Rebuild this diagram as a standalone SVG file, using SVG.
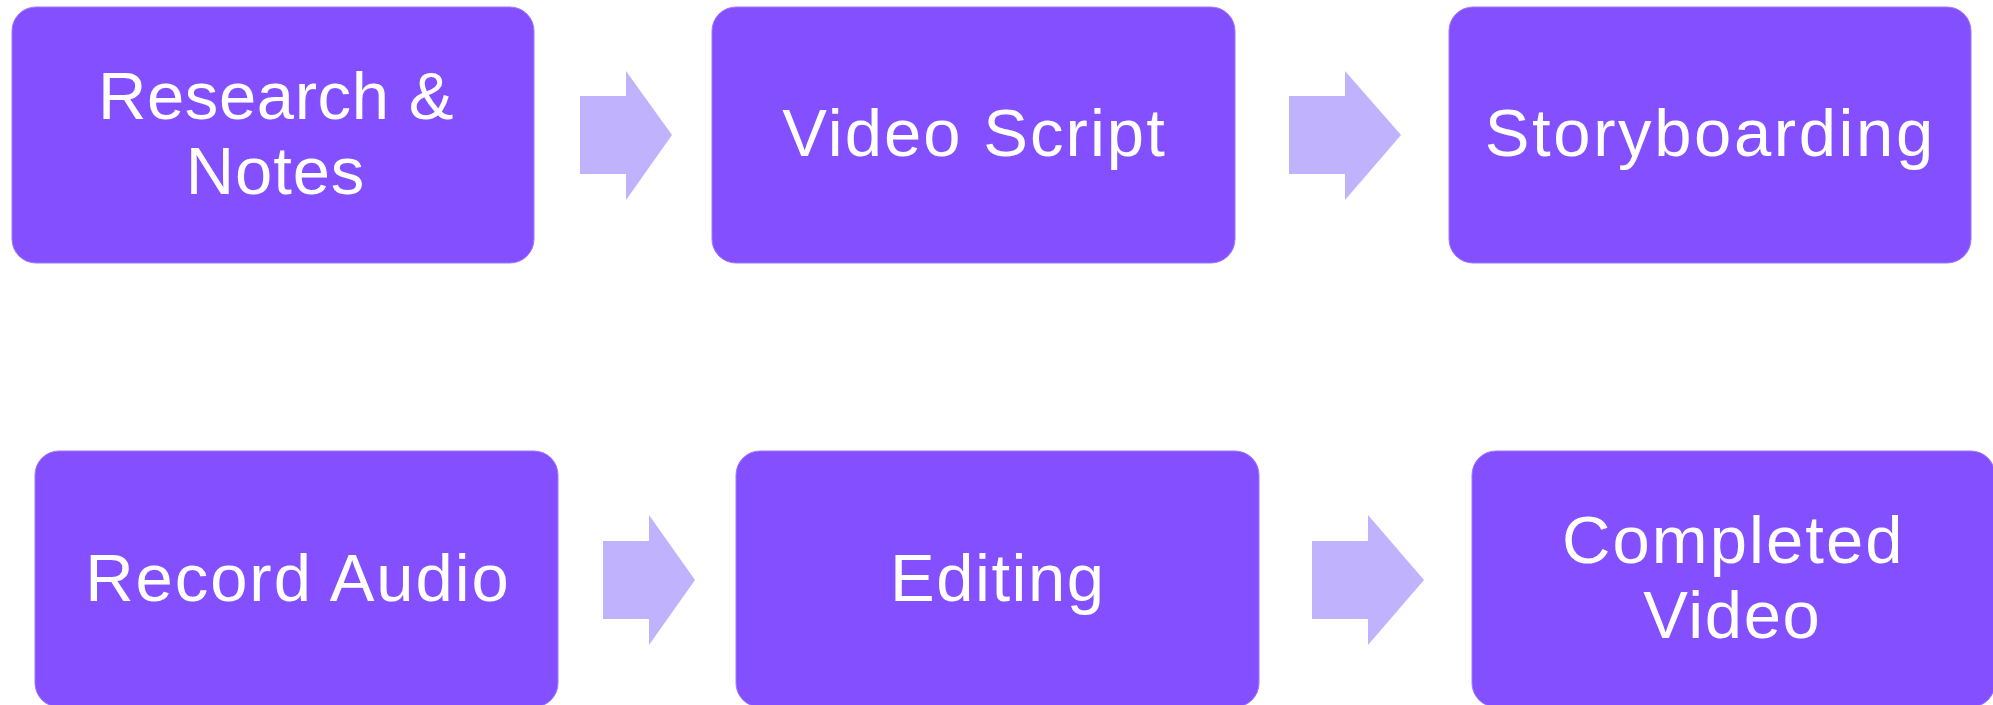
<svg xmlns="http://www.w3.org/2000/svg" width="1993" height="705" viewBox="0 0 1993 705">
<style>
.box{fill:#8450FF;stroke:#9D78FF;stroke-width:1}
.arrow{fill:#C1B2FD}
.lbl{font-family:"Liberation Sans",Arial,sans-serif;font-size:67px;letter-spacing:2.6px;fill:#FFFFFF;text-anchor:middle}
</style>
<rect width="1993" height="705" fill="#FFFFFF"/>
<g id="connectors">
<polygon class="arrow" points="580,96 626,96 626,71 672,135 626,200 626,174 580,174"/>
<polygon class="arrow" points="1289,96 1345,96 1345,71 1401,135 1345,200 1345,174 1289,174"/>
<polygon class="arrow" points="603,541 649,541 649,515 695,580 649,645 649,619 603,619"/>
<polygon class="arrow" points="1312,541 1368,541 1368,515 1424,580 1368,645 1368,619 1312,619"/>
</g>
<g id="node-research">
<rect class="box" x="12" y="7" width="522" height="256" rx="24"/>
<text class="lbl" x="276" y="119" style="letter-spacing:0.6px">Research &amp;</text>
<text class="lbl" x="275.5" y="193.5" style="letter-spacing:0.9px">Notes</text>
</g>
<g id="node-script">
<rect class="box" x="712" y="7" width="523" height="256" rx="24"/>
<text class="lbl" x="974.5" y="156" style="letter-spacing:2.05px">Video Script</text>
</g>
<g id="node-storyboarding">
<rect class="box" x="1449" y="7" width="522" height="256" rx="24"/>
<text class="lbl" x="1710.3" y="156">Storyboarding</text>
</g>
<g id="node-audio">
<rect class="box" x="35" y="451" width="523" height="256" rx="24"/>
<text class="lbl" x="298" y="600.5" style="letter-spacing:1.95px">Record Audio</text>
</g>
<g id="node-editing">
<rect class="box" x="736" y="451" width="523" height="256" rx="24"/>
<text class="lbl" x="997.8" y="600.5" style="letter-spacing:1.55px">Editing</text>
</g>
<g id="node-completed">
<rect class="box" x="1472" y="451" width="523" height="256" rx="24"/>
<text class="lbl" x="1733.3" y="563" style="letter-spacing:2.05px">Completed</text>
<text class="lbl" x="1732.3" y="637.5" style="letter-spacing:1.6px">Video</text>
</g>
</svg>
